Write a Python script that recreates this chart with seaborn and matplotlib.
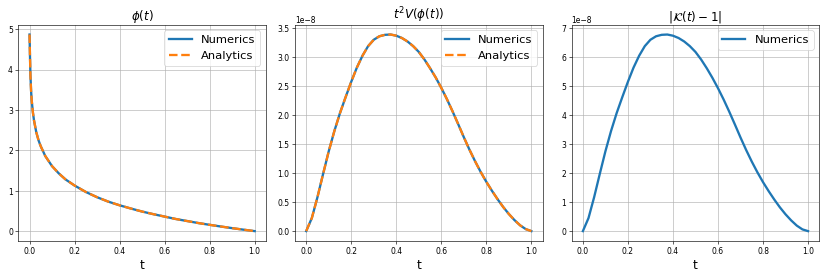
import numpy as np
import seaborn as sns
import matplotlib.pyplot as plt

# phi(t)
t_phi = [0.0, 0.002, 0.004, 0.007, 0.01, 0.015, 0.02, 0.03, 0.04, 0.05, 0.07,
         0.1, 0.13, 0.16, 0.2, 0.25, 0.3, 0.35, 0.4, 0.45, 0.5, 0.55, 0.6,
         0.65, 0.7, 0.75, 0.8, 0.85, 0.9, 0.95, 1.0]
phi_num = [4.87, 4.35, 3.87, 3.47, 3.22, 2.94, 2.74, 2.45, 2.25, 2.10, 1.86,
           1.61, 1.43, 1.28, 1.13, 0.97, 0.84, 0.73, 0.64, 0.56, 0.485, 0.42,
           0.36, 0.30, 0.25, 0.20, 0.156, 0.114, 0.074, 0.036, 0.0]
phi_ana = list(phi_num)

# t^2 V(phi(t)) and |K(t)-1|, in units of 1e-8
t = [0.0, 0.025, 0.05, 0.075, 0.1, 0.125, 0.15, 0.175, 0.2, 0.225, 0.25,
     0.275, 0.3, 0.325, 0.35, 0.375, 0.4, 0.425, 0.45, 0.475, 0.5, 0.525,
     0.55, 0.575, 0.6, 0.625, 0.65, 0.675, 0.7, 0.725, 0.75, 0.775, 0.8,
     0.825, 0.85, 0.875, 0.9, 0.925, 0.95, 0.975, 1.0]
pot_num = [0.0, 0.225, 0.585, 0.985, 1.375, 1.725, 2.035, 2.31, 2.575, 2.82,
           3.025, 3.19, 3.30, 3.36, 3.385, 3.39, 3.37, 3.33, 3.27, 3.19, 3.09,
           2.96, 2.81, 2.65, 2.47, 2.275, 2.065, 1.845, 1.62, 1.405, 1.205,
           1.02, 0.85, 0.695, 0.55, 0.415, 0.295, 0.19, 0.10, 0.035, 0.0]
pot_ana = list(pot_num)
k_err = [0.0, 0.45, 1.17, 1.97, 2.75, 3.45, 4.07, 4.62, 5.15, 5.64, 6.05,
         6.38, 6.60, 6.72, 6.77, 6.78, 6.74, 6.66, 6.54, 6.38, 6.18, 5.92,
         5.62, 5.29, 4.93, 4.54, 4.12, 3.68, 3.23, 2.80, 2.40, 2.03, 1.69,
         1.38, 1.09, 0.82, 0.58, 0.37, 0.19, 0.06, 0.0]

scale = 1e-8
fig, axes = plt.subplots(1, 3, figsize=(15, 5.01))

# left: phi(t)
ax = axes[0]
sns.lineplot(x=t_phi, y=phi_num, ax=ax, lw=3, label='Numerics')
sns.lineplot(x=t_phi, y=phi_ana, ax=ax, lw=3, linestyle='--', label='Analytics')
ax.set_title(r'$\phi(t)$', fontsize=15.5)

# middle: t^2 V(phi)
ax = axes[1]
sns.lineplot(x=t, y=np.array(pot_num) * scale, ax=ax, lw=3, label='Numerics')
sns.lineplot(x=t, y=np.array(pot_ana) * scale, ax=ax, lw=3, linestyle='--',
             label='Analytics')
ax.set_title(r'$t^2V(\phi(t))$', fontsize=15.5)

# right: |K(t)-1|
ax = axes[2]
sns.lineplot(x=t, y=np.array(k_err) * scale, ax=ax, lw=3, label='Numerics')
ax.set_title(r'$|\mathcal{K}(t)-1|$', fontsize=15.5)

for ax in axes:
    ax.set_xlabel('t', fontsize=16)
    ax.set_xticks([0.0, 0.2, 0.4, 0.6, 0.8, 1.0])
    ax.grid(True)
    ax.legend(loc='upper right', fontsize=15)

fig.subplots_adjust(left=0.022, right=0.987, top=0.91, bottom=0.13, wspace=0.117)
plt.savefig('out.png', dpi=55.34)
